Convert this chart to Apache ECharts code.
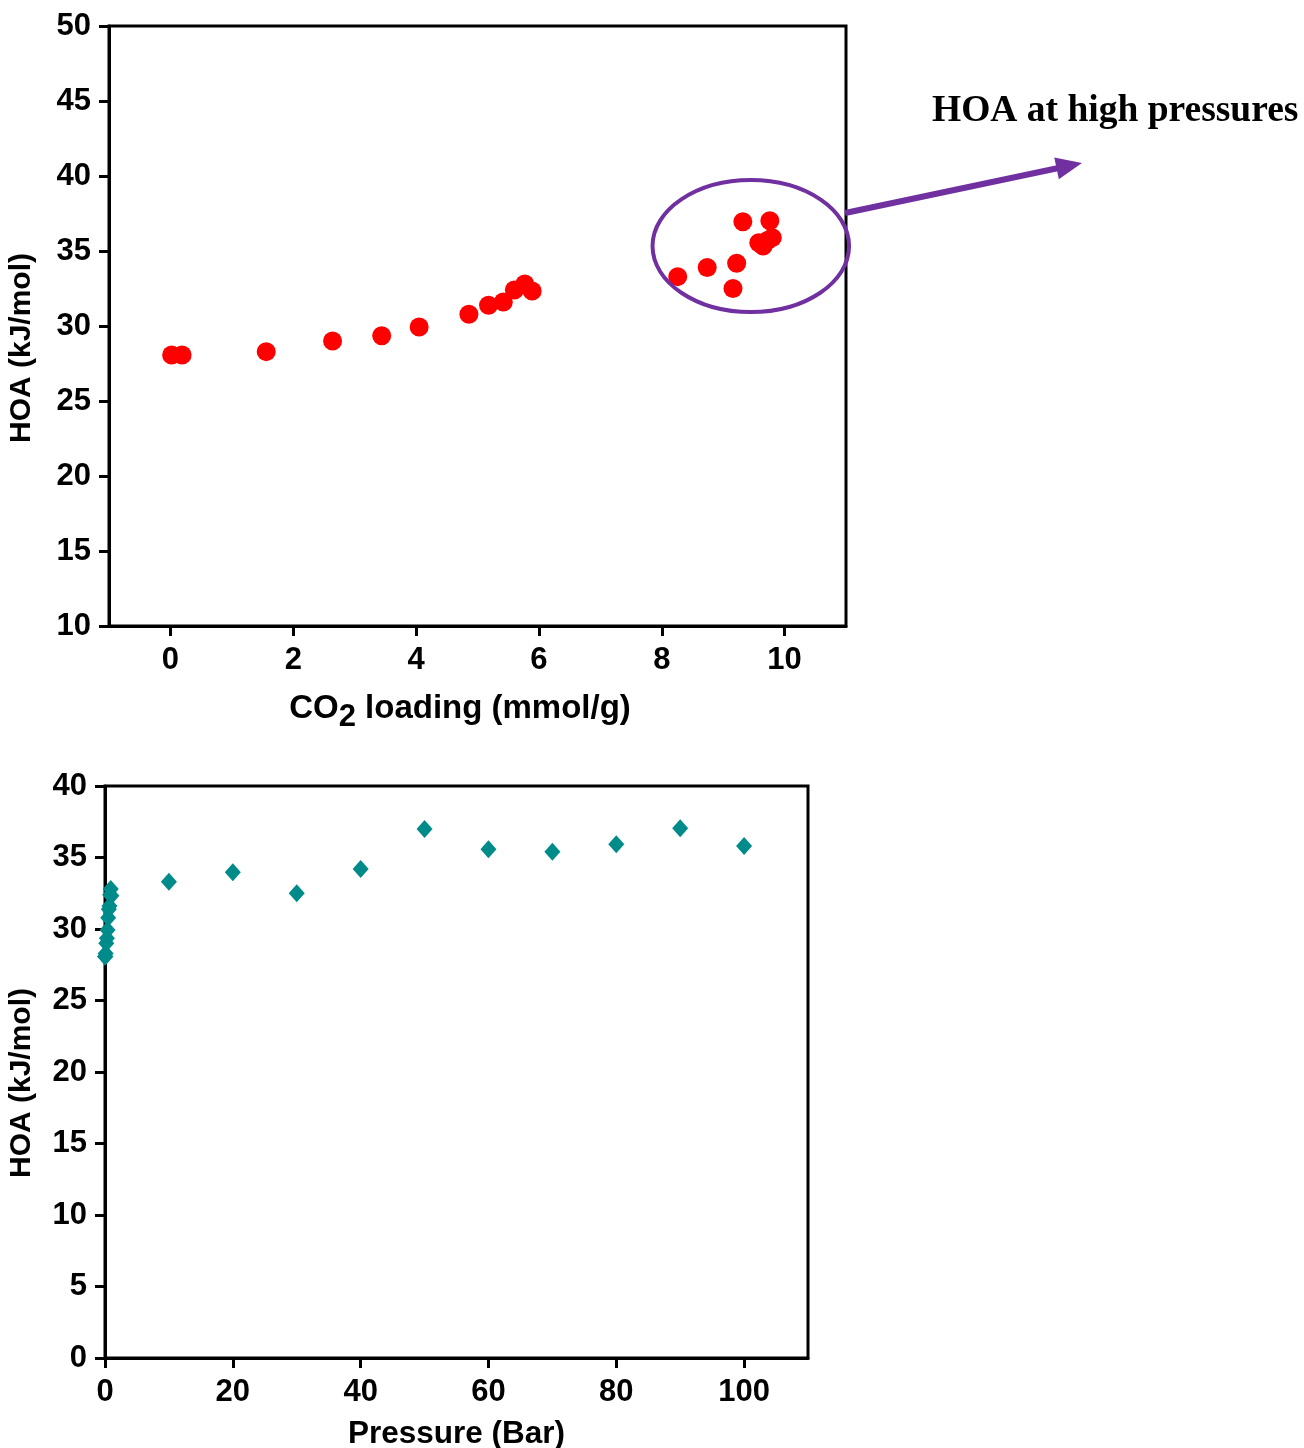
<!DOCTYPE html>
<html>
<head>
<meta charset="utf-8">
<script src="https://cdn.jsdelivr.net/npm/echarts@6/dist/echarts.min.js"></script>
<style>
html,body{margin:0;padding:0;background:#fff;}
#c{width:1304px;height:1448px;}
</style>
</head>
<body>
<div id="c"></div>
<script>
// Top panel: HOA vs CO2 loading
const loading = [0.02, 0.19, 1.56, 2.64, 3.44, 4.05, 4.86, 5.18, 5.42, 5.60, 5.77, 5.89,
                 8.26, 8.74, 9.16, 9.22, 9.32, 9.58, 9.65, 9.80, 9.76, 9.72];
const hoaByLoading = [28.07, 28.07, 28.29, 29.00, 29.35, 29.93, 30.78, 31.38, 31.60, 32.40, 32.80, 32.33,
                      33.29, 33.90, 32.50, 34.18, 36.95, 35.55, 35.33, 35.89, 37.02, 35.70];
// Bottom panel: HOA vs pressure
const pressure = [0.01, 0.05, 0.1, 0.2, 0.3, 0.4, 0.5, 0.6, 0.7, 0.8, 0.9, 1.0,
                  10, 20, 30, 40, 50, 60, 70, 80, 90, 100];
const hoaByPressure = [28.07, 28.07, 28.29, 29.00, 29.35, 29.93, 30.78, 31.38, 31.60, 32.40, 32.80, 32.33,
                       33.31, 33.96, 32.50, 34.20, 36.99, 35.57, 35.41, 35.92, 37.04, 35.80];
// Tick labels
const topXTicks = [0, 2, 4, 6, 8, 10];
const bottomXTicks = [0, 20, 40, 60, 80, 100];
// Highlight ellipse (data coords) and annotation
const highlightCenter = [9.45, 35.33];
const highlightRadius = [1.6, 4.4];
const annotationText = 'HOA at high pressures';

const font = '"Liberation Sans", Arial, sans-serif';
const axisLine = {show: true, onZero: false, lineStyle: {color: '#000', width: 3}};
const axisTick = {show: true, inside: false, length: 10, lineStyle: {color: '#000', width: 3}};
const xLabel = {color: '#000', fontFamily: font, fontWeight: 'bold', fontSize: 31, margin: 19};
const yLabel = {color: '#000', fontFamily: font, fontWeight: 'bold', fontSize: 31, margin: 18};
const nameStyle = {color: '#000', fontFamily: font, fontWeight: 'bold', fontSize: 31.5};

const chart = echarts.init(document.getElementById('c'), null, {renderer: 'canvas'});
chart.setOption({
  animation: false,
  backgroundColor: '#fff',
  grid: [
    {left: 109, top: 26, width: 737, height: 600, show: true, borderColor: '#000', borderWidth: 3,
     backgroundColor: 'transparent', containLabel: false, outerBoundsMode: 'none'},
    {left: 105, top: 786, width: 703, height: 572, show: true, borderColor: '#000', borderWidth: 3,
     backgroundColor: 'transparent', containLabel: false, outerBoundsMode: 'none'}
  ],
  xAxis: [
    {gridIndex: 0, type: 'value', min: -1, max: 11, splitLine: {show: false},
     axisLine, axisTick: Object.assign({customValues: topXTicks}, axisTick),
     axisLabel: Object.assign({customValues: topXTicks}, xLabel),
     name: '{n|CO}{s|2}{n| loading (mmol/g)}', nameLocation: 'middle', nameGap: 66,
     nameTextStyle: Object.assign({}, nameStyle, {padding: [0, 35, 0, 0], rich: {
       n: {fontFamily: font, fontWeight: 'bold', fontSize: 33, color: '#000', verticalAlign: 'top', lineHeight: 38},
       s: {fontFamily: font, fontWeight: 'bold', fontSize: 31, color: '#000', verticalAlign: 'top', lineHeight: 38, padding: [10, 0, 0, 0]}
     }})},
    {gridIndex: 1, type: 'value', min: 0, max: 110, splitLine: {show: false},
     axisLine, axisTick: Object.assign({customValues: bottomXTicks}, axisTick),
     axisLabel: Object.assign({customValues: bottomXTicks}, xLabel),
     name: 'Pressure (Bar)', nameLocation: 'middle', nameGap: 60, nameTextStyle: nameStyle}
  ],
  yAxis: [
    {gridIndex: 0, type: 'value', min: 10, max: 50, interval: 5, splitLine: {show: false},
     axisLine, axisTick, axisLabel: yLabel,
     name: 'HOA (kJ/mol)', nameLocation: 'middle', nameGap: 72, nameRotate: 90,
     nameTextStyle: Object.assign({}, nameStyle, {fontSize: 30, padding: [0, 44, 0, 0]})},
    {gridIndex: 1, type: 'value', min: 0, max: 40, interval: 5, splitLine: {show: false},
     axisLine, axisTick, axisLabel: yLabel,
     name: 'HOA (kJ/mol)', nameLocation: 'middle', nameGap: 68, nameRotate: 90,
     nameTextStyle: Object.assign({}, nameStyle, {fontSize: 30, padding: [0, 22, 0, 0]})}
  ],
  series: [
    {type: 'scatter', xAxisIndex: 0, yAxisIndex: 0, symbol: 'circle', symbolSize: 19,
     itemStyle: {color: '#FF0000', opacity: 1},
     data: loading.map((x, i) => [x, hoaByLoading[i]])},
    {type: 'scatter', xAxisIndex: 1, yAxisIndex: 1, symbol: 'diamond', symbolSize: [16, 18],
     itemStyle: {color: '#008B8B', opacity: 1},
     data: pressure.map((x, i) => [x, hoaByPressure[i]])}
  ]
});

// Annotation: ellipse around high-pressure points, arrow and label
const c = chart.convertToPixel({gridIndex: 0}, highlightCenter);
const e = chart.convertToPixel({gridIndex: 0}, [highlightCenter[0] + highlightRadius[0], highlightCenter[1] + highlightRadius[1]]);
const rx = e[0] - c[0], ry = c[1] - e[1];
const start = [c[0] + rx * 0.96, c[1] - ry * 0.5];
const tip = [1082, 163];
const dx = tip[0] - start[0], dy = tip[1] - start[1];
const L = Math.hypot(dx, dy), ux = dx / L, uy = dy / L;
const headLen = 26, headHalf = 11;
const base = [tip[0] - ux * headLen, tip[1] - uy * headLen];
const purple = '#7030A0';
chart.setOption({
  graphic: [
    {type: 'ellipse', shape: {cx: c[0], cy: c[1], rx: rx, ry: ry}, style: {fill: 'none', stroke: purple, lineWidth: 4}, z: 10},
    {type: 'line', shape: {x1: start[0], y1: start[1], x2: base[0] + ux * 2, y2: base[1] + uy * 2}, style: {stroke: purple, lineWidth: 6}, z: 10},
    {type: 'polygon', shape: {points: [tip, [base[0] - uy * headHalf, base[1] + ux * headHalf], [base[0] + uy * headHalf, base[1] - ux * headHalf]]}, style: {fill: purple}, z: 10},
    {type: 'text', left: 932, top: 92, style: {text: annotationText, fill: '#000', font: 'bold 37.5px "Liberation Serif", "Times New Roman", serif'}, z: 10}
  ]
});
</script>
</body>
</html>
